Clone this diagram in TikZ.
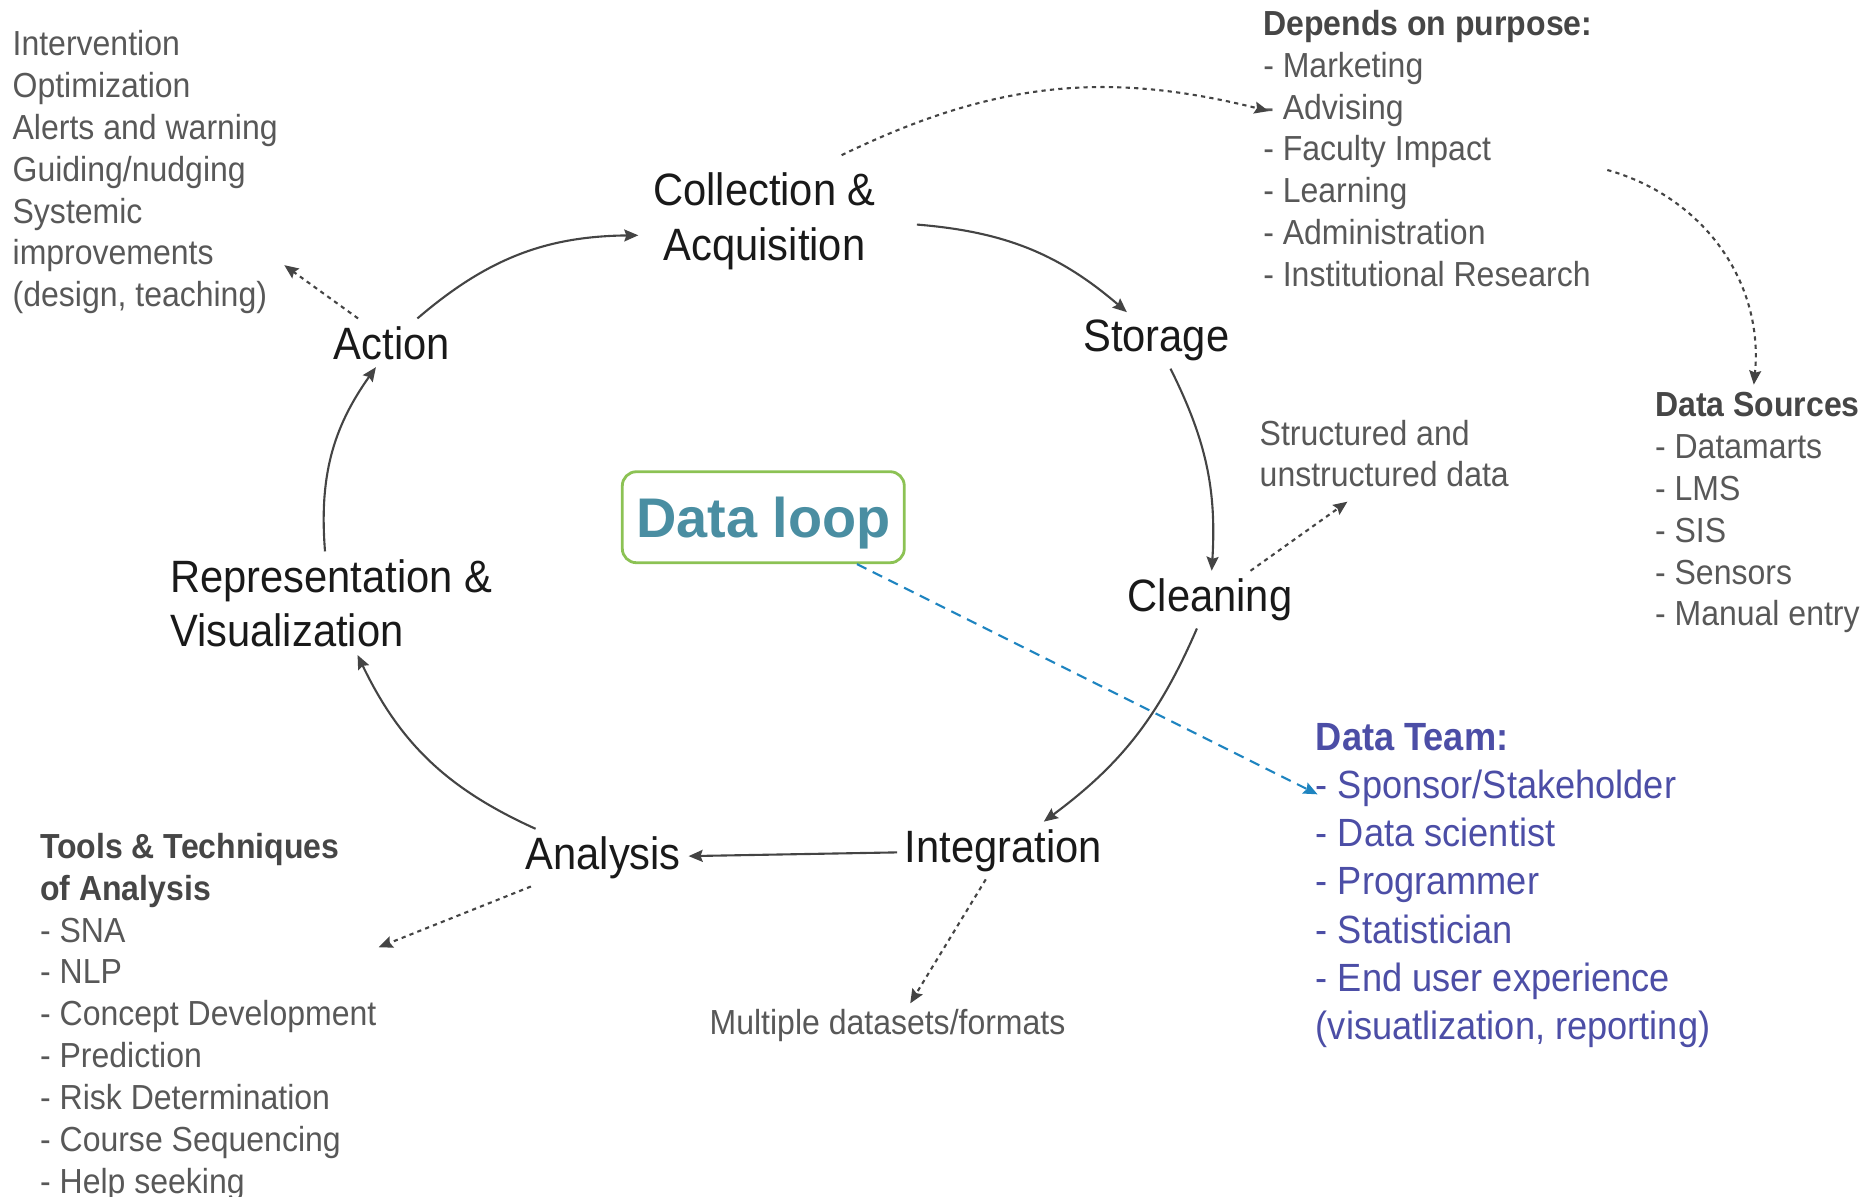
\documentclass[tikz,border=0pt]{standalone}
\usepackage{fontspec}
\setmainfont{Liberation Sans}[FakeStretch=0.92]
\newfontfamily\loopfont{Liberation Sans}
\usetikzlibrary{arrows.meta}
\definecolor{notegray}{RGB}{88,88,88}
\definecolor{headgray}{RGB}{70,70,70}
\definecolor{linegray}{RGB}{68,68,68}
\definecolor{loopgreen}{RGB}{140,194,84}
\definecolor{looptext}{RGB}{74,142,162}
\definecolor{teamcolor}{RGB}{76,78,166}
\definecolor{teamblue}{RGB}{30,132,192}
\tikzstyle{stage} = [font=\fontsize{12.9}{15.6}\selectfont, align=center, inner sep=2pt, text=black!90]
\tikzstyle{note} = [font=\fontsize{9.9}{11.9}\selectfont, align=left, inner sep=0pt, anchor=north west, text=notegray]
\tikzstyle{team} = [font=\fontsize{11.2}{13.7}\selectfont, align=left, inner sep=0pt, anchor=north west, text=teamcolor]
\tikzstyle{loopbox} = [rectangle, rounded corners=4pt, draw=loopgreen, line width=0.8pt, minimum width=2.82cm, minimum height=0.91cm, text depth=0pt, text=looptext, font=\loopfont\bfseries\fontsize{15.9}{19}\selectfont]
\tikzstyle{arrow} = [draw=linegray, line width=0.6pt, -{Stealth[length=4pt,width=3.4pt,inset=0.6pt]}]
\tikzstyle{hint} = [arrow, dash pattern=on 1.2pt off 1.2pt]
\tikzstyle{teamarrow} = [draw=teamblue, line width=0.6pt, dash pattern=on 3pt off 2pt, -{Stealth[length=4pt,width=3.4pt,inset=0.6pt]}]

\begin{document}
\begin{tikzpicture}[x=0.011945cm, y=-0.011945cm]
            \useasboundingbox (0,0) rectangle (1568,1002);

            \node [stage] at (640,185) (collect) {Collection \&\\Acquisition};
            \node [stage] at (968,285) (storage) {Storage};
            \node [stage] at (1013,502) (cleaning) {Cleaning};
            \node [stage] at (840,712) (integration) {Integration};
            \node [stage] at (505,718) (analysis) {Analysis};
            \node [stage, align=left, anchor=west] at (136,505) (represent) {Representation \&\\Visualization};
            \node [stage] at (328,287) (action) {Action};
            \node [loopbox] at (639,433) (dataloop) {Data loop};

            \node [note] at (10,25) (actionlist) {Intervention\\Optimization\\Alerts and warning\\Guiding/nudging\\Systemic\\improvements\\(design, teaching)};
            \node [note] at (1057,8) (purpose) {\textbf{\color{headgray}Depends on purpose:}\\- Marketing\\- Advising\\- Faculty Impact\\- Learning\\- Administration\\- Institutional Research};
            \node [note] at (1385,328) (sources) {\textbf{\color{headgray}Data Sources}\\- Datamarts\\- LMS\\- SIS\\- Sensors\\- Manual entry};
            \node [note] at (1054,351) (structured) {Structured and\\unstructured data};
            \node [note] at (33,697) (tools) {\textbf{\color{headgray}Tools \& Techniques}\\\textbf{\color{headgray}of Analysis}\\- SNA\\- NLP\\- Concept Development\\- Prediction\\- Risk Determination\\- Course Sequencing\\- Help seeking};
            \node [note, anchor=base] at (743,866) (formats) {Multiple datasets/formats};
            \node [team] at (1101,605) (team) {\textbf{Data Team:}\\- Sponsor/Stakeholder\\- Data scientist\\- Programmer\\- Statistician\\- End user experience\\(visuatlization, reporting)};

            \coordinate (actiontip) at (238,222);
            \coordinate (advtip) at (1062,93);
            \coordinate (structtip) at (1128,420);
            \coordinate (formatstip) at (762,840);
            \coordinate (toolstip) at (317,793);
            \coordinate (teamtip) at (1103,665);

            \draw [arrow] (action) to [bend left=20] ([shift={(-6,12)}]collect.west);
            \draw [arrow] ([shift={(28,3)}]collect.east) to [bend left=18] (storage);
            \draw [arrow] (storage) to [bend left=15] (cleaning);
            \draw [arrow] (cleaning) to [bend left=15] (integration);
            \draw [arrow] (integration) -- (analysis);
            \draw [arrow] (analysis) to [bend left=20] (represent);
            \draw [arrow] (represent) to [bend left=20] (action);

            \draw [hint] (action) -- (actiontip);
            \draw [hint] ([shift={(-35,-8)}]collect.north east) to [bend left=20] (advtip);
            \draw [hint] ([shift={(12,18)}]purpose.east) to [bend left=40] ([shift={(-3,-6)}]sources.north);
            \draw [hint] (cleaning) -- (structtip);
            \draw [hint] (integration) -- (formatstip);
            \draw [hint] (analysis) -- (toolstip);
            \draw [teamarrow] (dataloop) -- (teamtip);
            \end{tikzpicture}
\end{document}
